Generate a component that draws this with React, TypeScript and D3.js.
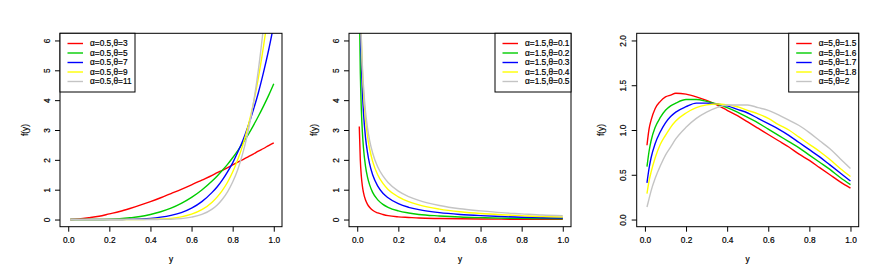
import React, { useRef, useEffect } from 'react';
import * as d3 from 'd3';

// Panel 1: alpha = 0.5
const xs1 = [0.01, 0.05, 0.1, 0.15, 0.2, 0.25, 0.3, 0.35, 0.4, 0.45, 0.5, 0.55, 0.6, 0.65, 0.7, 0.725, 0.75, 0.775, 0.8, 0.825, 0.85, 0.875, 0.9, 0.925, 0.95, 0.975, 1.0];
const p1Theta3 = [0, 0.02, 0.06, 0.11, 0.19, 0.27, 0.37, 0.48, 0.6, 0.73, 0.87, 1.01, 1.16, 1.32, 1.48, 1.57, 1.65, 1.74, 1.83, 1.92, 2.01, 2.1, 2.19, 2.29, 2.38, 2.48, 2.57];
const p1Theta5 = [0, 0, 0, 0, 0.01, 0.03, 0.06, 0.1, 0.17, 0.26, 0.38, 0.54, 0.74, 0.99, 1.29, 1.46, 1.65, 1.85, 2.07, 2.31, 2.57, 2.84, 3.14, 3.46, 3.8, 4.16, 4.55];
const p1Theta7 = [0, 0, 0, 0, 0, 0, 0.01, 0.02, 0.04, 0.08, 0.14, 0.23, 0.38, 0.6, 0.91, 1.1, 1.33, 1.6, 1.9, 2.26, 2.66, 3.13, 3.66, 4.25, 4.93, 5.68, 6.53];
const p1Theta9 = [0, 0, 0, 0, 0, 0, 0, 0, 0.01, 0.02, 0.04, 0.09, 0.18, 0.33, 0.58, 0.76, 0.98, 1.25, 1.59, 2.01, 2.51, 3.13, 3.86, 4.75, 5.8, 7.05, 8.53];
const p1Theta11 = [0, 0, 0, 0, 0, 0, 0, 0, 0, 0.005, 0.01, 0.03, 0.08, 0.17, 0.35, 0.49, 0.68, 0.93, 1.26, 1.68, 2.24, 2.95, 3.86, 5.01, 6.46, 8.27, 10.52];
const p1Labels = ['α=0.5,θ=3', 'α=0.5,θ=5', 'α=0.5,θ=7', 'α=0.5,θ=9', 'α=0.5,θ=11'];

// Panel 2: alpha = 1.5
const xs2 = [0.01, 0.015, 0.02, 0.025, 0.03, 0.04, 0.05, 0.06, 0.075, 0.1, 0.125, 0.15, 0.2, 0.25, 0.3, 0.4, 0.5, 0.6, 0.7, 0.8, 0.9, 1.0];
const p2Theta01 = [3.12, 2.0, 1.45, 1.13, 0.92, 0.66, 0.51, 0.41, 0.31, 0.22, 0.17, 0.13, 0.09, 0.07, 0.05, 0.034, 0.024, 0.017, 0.013, 0.01, 0.008, 0.006];
const p2Theta02 = [7.41, 4.94, 3.7, 2.94, 2.43, 1.8, 1.42, 1.17, 0.91, 0.66, 0.51, 0.41, 0.29, 0.22, 0.17, 0.12, 0.084, 0.063, 0.048, 0.038, 0.03, 0.024];
const p2Theta03 = [9.93, 6.9, 5.31, 4.32, 3.64, 2.77, 2.24, 1.87, 1.5, 1.12, 0.88, 0.73, 0.53, 0.41, 0.33, 0.23, 0.17, 0.13, 0.1, 0.078, 0.062, 0.05];
const p2Theta04 = [10.56, 7.64, 6.05, 5.03, 4.32, 3.39, 2.79, 2.38, 1.95, 1.49, 1.21, 1.01, 0.76, 0.6, 0.49, 0.35, 0.26, 0.2, 0.16, 0.13, 0.1, 0.084];
const p2Theta05 = [9.88, 7.45, 6.07, 5.17, 4.52, 3.64, 3.07, 2.66, 2.23, 1.76, 1.46, 1.24, 0.95, 0.77, 0.64, 0.47, 0.36, 0.29, 0.23, 0.19, 0.15, 0.125];
const p2Labels = ['α=1.5,θ=0.1', 'α=1.5,θ=0.2', 'α=1.5,θ=0.3', 'α=1.5,θ=0.4', 'α=1.5,θ=0.5'];

// Panel 3: alpha = 5
const xs3 = [0.01, 0.02, 0.03, 0.05, 0.075, 0.1, 0.125, 0.15, 0.2, 0.25, 0.3, 0.35, 0.4, 0.45, 0.5, 0.55, 0.6, 0.65, 0.7, 0.75, 0.8, 0.85, 0.9, 0.95, 1.0];
const p3Theta15 = [0.83, 1.01, 1.11, 1.24, 1.32, 1.37, 1.39, 1.41, 1.4, 1.37, 1.33, 1.28, 1.22, 1.16, 1.09, 1.02, 0.95, 0.88, 0.81, 0.73, 0.66, 0.58, 0.5, 0.42, 0.35];
const p3Theta16 = [0.59, 0.76, 0.88, 1.03, 1.14, 1.22, 1.27, 1.3, 1.34, 1.34, 1.32, 1.29, 1.25, 1.2, 1.14, 1.08, 1.01, 0.94, 0.87, 0.8, 0.72, 0.64, 0.56, 0.47, 0.39];
const p3Theta17 = [0.41, 0.57, 0.69, 0.85, 0.98, 1.08, 1.15, 1.2, 1.26, 1.3, 1.3, 1.29, 1.27, 1.23, 1.19, 1.13, 1.07, 1.01, 0.94, 0.86, 0.78, 0.7, 0.61, 0.52, 0.43];
const p3Theta18 = [0.29, 0.43, 0.53, 0.69, 0.84, 0.94, 1.03, 1.1, 1.19, 1.25, 1.28, 1.29, 1.28, 1.26, 1.22, 1.18, 1.13, 1.06, 1.0, 0.92, 0.84, 0.76, 0.67, 0.57, 0.48];
const p3Theta2 = [0.14, 0.23, 0.32, 0.46, 0.6, 0.72, 0.81, 0.9, 1.03, 1.13, 1.2, 1.25, 1.28, 1.28, 1.28, 1.25, 1.22, 1.17, 1.11, 1.05, 0.97, 0.88, 0.79, 0.68, 0.57];
const p3Labels = ['α=5,θ=1.5', 'α=5,θ=1.6', 'α=5,θ=1.7', 'α=5,θ=1.8', 'α=5,θ=2'];

const xTicks = [0, 0.2, 0.4, 0.6, 0.8, 1.0];
const yTicksA = [0, 1, 2, 3, 4, 5, 6];
const yTicksB = [0, 0.5, 1.0, 1.5, 2.0];

const colors = ['#ff0000', '#00cd00', '#0000ff', '#ffff00', '#c4c4c4'];

const panels = [
  { xs: xs1, series: [p1Theta3, p1Theta5, p1Theta7, p1Theta9, p1Theta11], labels: p1Labels, yMax: 6, yTicks: yTicksA, fmt: d3.format('d'), legendLeft: true, legendW: 75 },
  { xs: xs2, series: [p2Theta01, p2Theta02, p2Theta03, p2Theta04, p2Theta05], labels: p2Labels, yMax: 6, yTicks: yTicksA, fmt: d3.format('d'), legendLeft: false, legendW: 76 },
  { xs: xs3, series: [p3Theta15, p3Theta16, p3Theta17, p3Theta18, p3Theta2], labels: p3Labels, yMax: 2, yTicks: yTicksB, fmt: d3.format('.1f'), legendLeft: false, legendW: 70 },
];

const FONT = '"Liberation Sans", Arial, Helvetica, sans-serif';

const App = () => {
  const svgRef = useRef<SVGSVGElement>(null);

  useEffect(() => {
    const svg = d3.select(svgRef.current);
    svg.selectAll('*').remove();

    // layout of the three plot boxes
    const lefts = [60, 349, 636.7];
    const plotW = 222;
    const top = 33.3;
    const bottom = 226.7;

    // text in the original is a little heavy
    const styleText = (sel: any) => sel
      .style('font-size', '8.3px')
      .style('font-family', FONT)
      .attr('fill', '#000')
      .attr('stroke', '#000')
      .attr('stroke-width', 0.2);

    panels.forEach((p, i) => {
      const x0 = lefts[i];
      const x = d3.scaleLinear().domain([-0.04, 1.04]).range([x0, x0 + plotW]);
      const y = d3.scaleLinear().domain([-0.04 * p.yMax, 1.04 * p.yMax]).range([bottom, top]);
      const g = svg.append('g');

      const clipId = `clip-${i}`;
      svg.append('clipPath').attr('id', clipId)
        .append('rect')
        .attr('x', x0).attr('y', top)
        .attr('width', plotW).attr('height', bottom - top);

      // curves
      p.series.forEach((vals, k) => {
        const line = d3.line<number>()
          .x((_, j) => x(p.xs[j]))
          .y(d => y(d))
          .curve(d3.curveMonotoneX);
        g.append('path')
          .datum(vals)
          .attr('clip-path', `url(#${clipId})`)
          .attr('fill', 'none')
          .attr('stroke', colors[k])
          .attr('stroke-width', 1.4)
          .attr('d', line);
      });

      // x axis
      const xAxis = g.append('g')
        .attr('transform', `translate(0,${bottom})`)
        .call(d3.axisBottom(x).tickValues(xTicks).tickSize(5).tickSizeOuter(0).tickPadding(5.2).tickFormat(d3.format('.1f')));
      styleText(xAxis.selectAll('text'));
      xAxis.select('.domain').remove();

      // y axis, labels parallel to the axis
      const yAxis = g.append('g')
        .attr('transform', `translate(${x0},0)`)
        .call(d3.axisLeft(y).tickValues(p.yTicks).tickSize(5).tickSizeOuter(0).tickFormat(p.fmt as any));
      yAxis.select('.domain').remove();
      styleText(yAxis.selectAll('.tick text')
        .attr('x', null).attr('dy', null)
        .attr('text-anchor', 'middle')
        .attr('transform', 'translate(-10.5,0) rotate(-90)'));

      // plot box
      g.append('rect')
        .attr('x', x0).attr('y', top)
        .attr('width', plotW).attr('height', bottom - top)
        .attr('fill', 'none').attr('stroke', '#000').attr('stroke-width', 1);

      // axis titles
      styleText(g.append('text')
        .attr('x', x0 + plotW / 2).attr('y', 262)
        .attr('text-anchor', 'middle')
        .text('y'));
      styleText(g.append('text')
        .attr('transform', `translate(${x0 - 32.5},${(top + bottom) / 2}) rotate(-90)`)
        .attr('text-anchor', 'middle')
        .text('f(y)'));

      // legend
      const lw = p.legendW;
      const lx = p.legendLeft ? x0 : x0 + plotW - lw;
      const legend = g.append('g');
      legend.append('rect')
        .attr('x', lx).attr('y', top)
        .attr('width', lw).attr('height', 58.7)
        .attr('fill', '#fff').attr('stroke', '#000').attr('stroke-width', 1);
      p.labels.forEach((lab, k) => {
        const ly = 43.5 + k * 9.5;
        legend.append('line')
          .attr('x1', lx + 7.5).attr('x2', lx + 23)
          .attr('y1', ly).attr('y2', ly)
          .attr('stroke', colors[k]).attr('stroke-width', 1.4);
        styleText(legend.append('text')
          .attr('x', lx + 30).attr('y', ly)
          .attr('dy', '0.35em')
          .text(lab));
      });
    });
  }, []);

  return (
    <svg ref={svgRef} width={881} height={277}
      style={{ position: 'absolute', left: 0, top: 0, background: '#fff' }} />
  );
};

export default App;
